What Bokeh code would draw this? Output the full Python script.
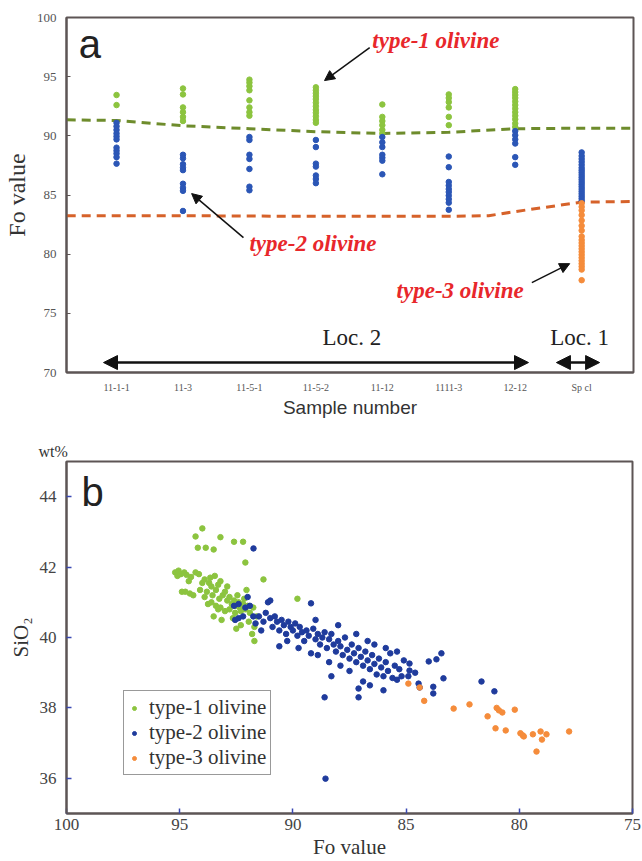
from bokeh.plotting import figure
from bokeh.layouts import column
from bokeh.models import Label, Arrow, NormalHead, FixedTicker, Legend, LegendItem, Range1d, Title
from bokeh.embed import file_html
from bokeh.resources import INLINE

# ---------------- Panel a data ----------------
samples = ["11-1-1", "11-3", "11-5-1", "11-5-2", "11-12", "1111-3", "12-12", "Sp cl"]

a_type1 = [
    [93.45, 92.6],
    [94.0, 93.5, 92.4, 92.0, 91.6, 91.25],
    [94.75, 94.5, 94.2, 93.85, 93.0, 92.4, 92.0, 91.7],
    [94.1, 93.85, 93.6, 93.35, 93.1, 92.8, 92.5, 92.2, 91.95, 91.65, 91.35, 91.1],
    [92.65, 91.6, 91.25, 90.9, 90.5, 90.2],
    [93.5, 93.2, 92.85, 92.4, 91.6, 90.9],
    [93.95, 93.7, 93.45, 93.2, 92.9, 92.6, 92.3, 92.0, 91.7, 91.4, 91.05, 90.75],
    [],
]
a_type2 = [
    [91.1, 90.8, 90.5, 90.2, 89.95, 89.7, 89.0, 88.75, 88.5, 88.2, 87.65],
    [88.4, 88.1, 87.6, 87.3, 87.1, 85.95, 85.6, 85.35, 83.65],
    [89.9, 89.65, 88.4, 88.05, 87.2, 85.7, 85.4],
    [89.65, 89.05, 87.65, 87.4, 86.65, 86.35, 86.0],
    [89.9, 89.45, 89.05, 88.4, 88.15, 87.9, 86.75],
    [88.25, 87.35, 86.1, 85.8, 85.5, 85.25, 84.95, 84.65, 84.35, 83.75],
    [90.4, 90.05, 89.7, 89.35, 88.2, 87.55],
    [88.6, 88.3, 88.05, 87.8, 87.55, 87.3, 87.1, 86.9, 86.7, 86.5, 86.3, 86.1,
     85.9, 85.7, 85.5, 85.3, 85.1, 84.9, 84.7, 84.5],
]
a_type3 = [
    [], [], [], [], [], [], [],
    [84.3, 84.0, 83.7, 83.3, 82.85, 82.4, 82.0, 81.5, 81.2, 80.95, 80.7, 80.45,
     80.2, 79.95, 79.7, 79.45, 79.2, 78.95, 78.7, 77.8],
]

trend1_x = [0.25, 1, 2, 3, 4, 5, 6, 7, 8, 8.78]
trend1_y = [91.35, 91.3, 90.85, 90.6, 90.35, 90.2, 90.3, 90.6, 90.65, 90.65]
trend2_x = [0.25, 1, 2, 3, 4, 5, 6, 6.6, 7, 8, 8.78]
trend2_y = [83.25, 83.25, 83.25, 83.22, 83.2, 83.2, 83.2, 83.25, 83.6, 84.4, 84.45]

# ---------------- Panel b data ----------------
b_type1_fo = [94.0, 94.3, 94.2, 93.85, 93.5, 93.2, 92.6, 92.2, 92.1, 91.3, 89.8,
              95.2, 95.05, 94.95, 94.8, 95.1, 94.7, 94.5, 94.3, 94.15, 94.9, 94.75, 94.55, 94.4, 94.6, 94.0,
              93.9, 93.7, 93.6, 93.8, 93.55, 93.4, 93.3, 93.25, 93.1, 93.0, 92.9, 93.6, 93.75, 93.4,
              93.2, 92.8, 92.7, 92.6, 92.5, 92.4, 92.35, 92.2, 92.1, 92.0, 92.3, 92.55, 92.8, 93.0,
              93.5, 93.15, 92.65, 92.45, 92.15, 91.9, 91.75, 91.6, 91.95, 91.7, 92.3, 92.5, 91.8,
              91.7, 93.3, 93.9, 93.65, 93.2, 92.9, 94.1, 93.45, 92.05]
b_type1_si = [43.1, 42.87, 42.55, 42.55, 42.5, 42.85, 42.72, 42.72, 42.13, 41.65, 41.1,
              41.85, 41.9, 41.8, 41.85, 41.75, 41.78, 41.72, 41.85, 41.8, 41.3, 41.3, 41.25, 41.2, 41.6, 41.55,
              41.65, 41.55, 41.45, 41.3, 41.2, 41.35, 41.5, 41.1, 41.2, 41.3, 41.05, 41.0, 40.95, 40.9,
              40.85, 41.15, 40.95, 41.05, 40.9, 41.0, 40.85, 40.95, 40.8, 40.9, 40.75, 40.7, 40.8, 40.75,
              40.6, 40.5, 40.55, 41.2, 41.1, 40.7, 40.85, 40.6, 40.45, 40.3, 40.35, 40.25, 40.1,
              39.9, 40.8, 41.15, 41.7, 41.6, 41.45, 41.35, 41.75, 41.35]

b_type2_fo = [92.6, 92.4, 92.1, 92.0, 91.9, 91.75, 92.55, 92.4, 92.2, 91.65, 91.5, 91.4, 91.3,
              91.1, 91.0, 91.2, 91.0, 90.9, 90.8, 90.7, 90.6, 90.5, 90.4, 90.3, 90.2, 90.1, 90.0,
              89.9, 89.8, 89.7, 89.6, 89.5, 89.4, 89.2, 89.3, 89.1, 89.0, 88.9, 88.8, 88.7, 88.6,
              88.5, 88.4, 88.3, 88.2, 88.1, 88.0, 87.9, 87.8, 87.7, 87.6, 87.5, 87.4, 87.3, 87.2,
              87.1, 87.0, 86.9, 86.8, 86.7, 86.6, 86.5, 86.4, 86.3, 86.2, 86.1, 86.0, 85.9, 85.8,
              85.7, 85.6, 85.5, 85.4, 85.3, 85.2, 85.1, 84.85, 84.85, 84.45, 84.4, 83.8, 83.8,
              83.35, 83.44, 83.66, 84.0, 81.67, 81.1, 88.56, 91.74, 86.6, 87.1, 87.1,
              90.25, 89.75, 89.2, 88.9, 88.4, 87.9, 87.5, 86.9, 90.6, 89.0, 88.0, 87.2, 86.4,
              85.9, 85.4, 84.9, 84.6, 86.7, 88.3, 88.6, 86.0]
b_type2_si = [40.9, 40.95, 40.85, 41.15, 40.9, 40.6, 40.5, 40.55, 40.6, 40.4, 40.6, 40.2, 40.45,
              41.0, 41.05, 40.7, 40.55, 40.3, 40.6, 40.45, 40.2, 40.5, 40.35, 40.1, 40.45, 40.3, 40.2,
              40.4, 40.05, 40.3, 40.15, 39.9, 40.2, 40.97, 40.05, 40.25, 39.95, 40.1, 39.8, 40.0, 40.15,
              39.7, 39.95, 40.1, 39.8, 39.6, 39.9, 39.75, 39.5, 40.0, 39.65, 39.4, 39.8, 39.55, 39.3,
              39.7, 39.45, 39.2, 39.6, 39.35, 39.1, 39.5, 39.25, 38.95, 39.4, 39.15, 38.9, 39.3, 39.05,
              39.55, 38.85, 39.2, 38.8, 39.1, 38.9, 39.35, 39.26, 39.06, 38.69, 38.58, 38.6, 38.41,
              38.84, 39.55, 39.38, 39.32, 38.75, 38.47, 35.99, 42.53, 38.64, 38.55, 38.3,
              39.9, 39.7, 39.55, 39.5, 39.3, 39.2, 39.05, 38.75, 39.75, 40.5, 40.35, 40.1, 39.8,
              39.7, 39.6, 38.9, 39.0, 39.9, 38.9, 38.3, 38.5]

b_type3_fo = [84.9, 84.4, 84.2, 82.9, 82.2, 81.4, 81.0, 80.9, 80.75, 80.2, 81.05, 80.6,
              79.95, 79.85, 79.8, 79.4, 79.06, 78.8, 79.0, 79.24, 77.8]
b_type3_si = [38.69, 38.58, 38.2, 37.98, 38.1, 37.76, 38.0, 37.93, 37.87, 37.95, 37.42, 37.36,
              37.28, 37.22, 37.19, 37.25, 37.33, 37.25, 37.1, 36.76, 37.33]

# ---------------- styling constants ----------------
GREEN = "#8cc43f"
BLUE_A = "#2b56b6"
BLUE_B = "#1f3b9c"
ORANGE = "#f58c3b"
RED = "#e8272b"
FRAME = "#5d5555"
SERIF = "Liberation Serif"
SANS = "Liberation Sans"

# ================= Panel a =================
pa = figure(frame_width=567, frame_height=355,
            min_border_left=65, min_border_right=10, min_border_top=17, min_border_bottom=49,
            x_range=Range1d(0.247, 8.78), y_range=Range1d(70, 100),
            output_backend="svg", toolbar_location=None)
pa.xgrid.visible = False
pa.ygrid.visible = False
pa.outline_line_color = FRAME
pa.outline_line_width = 2
pa.outline_line_alpha = 1

for ax in (pa.xaxis[0], pa.yaxis[0]):
    ax.axis_line_color = FRAME
    ax.axis_line_width = 2
    ax.minor_tick_line_color = None
    ax.minor_tick_out = 0
    ax.minor_tick_in = 0

pa.xaxis.ticker = FixedTicker(ticks=list(range(1, len(samples) + 1)))
pa.xaxis.major_label_overrides = {i + 1: s for i, s in enumerate(samples)}
pa.xaxis.major_tick_line_color = None
pa.xaxis.major_tick_out = 0
pa.xaxis.major_tick_in = 0
pa.xaxis.major_label_standoff = 9
pa.xaxis.major_label_text_font = SERIF
pa.xaxis.major_label_text_font_size = "10px"
pa.xaxis.major_label_text_color = "#555555"
pa.xaxis.axis_label = "Sample number"
pa.xaxis.axis_label_text_font = SANS
pa.xaxis.axis_label_text_font_style = "normal"
pa.xaxis.axis_label_text_font_size = "19px"
pa.xaxis.axis_label_text_color = "#333333"
pa.xaxis.axis_label_standoff = 1

pa.yaxis.ticker = FixedTicker(ticks=[70, 75, 80, 85, 90, 95, 100])
pa.yaxis.major_tick_in = 4
pa.yaxis.major_tick_out = 0
pa.yaxis.major_tick_line_color = FRAME
pa.yaxis.major_label_standoff = 10
pa.yaxis.major_label_text_font = SERIF
pa.yaxis.major_label_text_font_size = "13px"
pa.yaxis.major_label_text_color = "#555555"
pa.yaxis.axis_label = "Fo value"
pa.yaxis.axis_label_text_font = SERIF
pa.yaxis.axis_label_text_font_style = "normal"
pa.yaxis.axis_label_text_font_size = "24px"
pa.yaxis.axis_label_text_color = "#333333"
pa.yaxis.axis_label_standoff = 4

pa.line(trend1_x, trend1_y, line_color="#6e8c2c", line_width=3, line_dash="9 6")
pa.line(trend2_x, trend2_y, line_color="#d6622a", line_width=3, line_dash="9 6")

def flatten(groups):
    xs, ys = [], []
    for i, g in enumerate(groups):
        xs += [i + 1] * len(g)
        ys += g
    return xs, ys

for groups, col in ((a_type1, GREEN), (a_type2, BLUE_A), (a_type3, ORANGE)):
    xs, ys = flatten(groups)
    pa.scatter(xs, ys, size=5.5, marker="circle", fill_color=col, line_color=col)

pa.add_layout(Label(x=0.43, y=97.8, text="a", text_font=SANS, text_font_size="40px",
                    text_color="#222222", text_baseline="middle"))
for txt, x, y in (("type-1 olivine", 4.85, 98.06), ("type-2 olivine", 3.0, 80.9),
                  ("type-3 olivine", 5.215, 76.92)):
    pa.add_layout(Label(x=x, y=y, text=txt, text_font=SERIF, text_font_style="bold italic",
                        text_font_size="23px", text_color=RED, text_baseline="middle"))
for (x0, y0, x1, y1) in ((4.81, 97.46, 4.13, 94.67), (2.91, 81.4, 2.13, 85.12),
                         (7.25, 77.6, 7.82, 79.2)):
    pa.add_layout(Arrow(x_start=x0, y_start=y0, x_end=x1, y_end=y1, line_width=1.5,
                        line_color="#111111",
                        end=NormalHead(size=10, fill_color="#111111", line_color="#111111")))
for txt, x in (("Loc. 2", 4.54), ("Loc. 1", 7.97)):
    pa.add_layout(Label(x=x, y=72.95, text=txt, text_font=SERIF, text_font_size="23px",
                        text_color="#222222", text_align="center", text_baseline="middle"))
for (x0, x1) in ((0.804, 7.2), (7.62, 8.27)):
    pa.add_layout(Arrow(x_start=x0, y_start=70.84, x_end=x1, y_end=70.84, line_width=2.5,
                        line_color="#111111",
                        start=NormalHead(size=14, fill_color="#111111", line_color="#111111"),
                        end=NormalHead(size=14, fill_color="#111111", line_color="#111111")))

# ================= Panel b =================
pb = figure(frame_width=566, frame_height=352,
            min_border_left=65, min_border_right=11, min_border_top=40, min_border_bottom=48,
            x_range=Range1d(100, 75), y_range=Range1d(35, 45),
            output_backend="svg", toolbar_location=None)
pb.title = Title(text="wt%", align="left", offset=-28, standoff=4,
                 text_font=SERIF, text_font_size="16px", text_font_style="normal",
                 text_color="#333333")
pb.xgrid.visible = False
pb.ygrid.visible = False
pb.outline_line_color = FRAME
pb.outline_line_width = 2
pb.outline_line_alpha = 1
for ax in (pb.xaxis[0], pb.yaxis[0]):
    ax.axis_line_color = FRAME
    ax.axis_line_width = 2
    ax.minor_tick_line_color = None
    ax.minor_tick_out = 0
    ax.minor_tick_in = 0
    ax.major_tick_in = 5
    ax.major_tick_out = 0
    ax.major_tick_line_color = "#3a49b3"
    ax.major_tick_line_width = 1.5
    ax.major_label_text_font = SERIF
    ax.major_label_text_font_size = "17px"
    ax.major_label_text_color = "#444444"
    ax.axis_label_text_font = SERIF
    ax.axis_label_text_font_style = "normal"
    ax.axis_label_text_font_size = "21px"
    ax.axis_label_text_color = "#333333"

pb.xaxis.ticker = FixedTicker(ticks=[100, 95, 90, 85, 80, 75])
pb.xaxis.major_label_standoff = 5
pb.xaxis.axis_label = "Fo value"
pb.xaxis.axis_label_standoff = 2
pb.yaxis.ticker = FixedTicker(ticks=[36, 38, 40, 42, 44])
pb.yaxis.major_label_standoff = 10
pb.yaxis.axis_label = "SiO\u2082"
pb.yaxis.axis_label_standoff = 4

r1 = pb.scatter(b_type1_fo, b_type1_si, size=5.5, marker="circle", fill_color=GREEN, line_color=GREEN)
r2 = pb.scatter(b_type2_fo, b_type2_si, size=5.5, marker="circle", fill_color=BLUE_B, line_color=BLUE_B)
r3 = pb.scatter(b_type3_fo, b_type3_si, size=5.5, marker="circle", fill_color=ORANGE, line_color=ORANGE)

legend = Legend(items=[LegendItem(label="type-1 olivine", renderers=[r1]),
                       LegendItem(label="type-2 olivine", renderers=[r2]),
                       LegendItem(label="type-3 olivine", renderers=[r3])],
                location=(57, 38), label_text_font=SERIF, label_text_font_size="21px",
                label_text_color="#333333", border_line_color="#333333", border_line_width=1.5,
                glyph_width=12, glyph_height=10, label_standoff=9, label_height=20,
                spacing=0, padding=4, margin=0, background_fill_alpha=1)
pb.add_layout(legend)

pb.add_layout(Label(x=99.34, y=44.12, text="b", text_font=SANS, text_font_size="40px",
                    text_color="#222222", text_baseline="middle"))

layout = column(pa, pb)
open("out.html", "w").write(file_html(layout, INLINE))
